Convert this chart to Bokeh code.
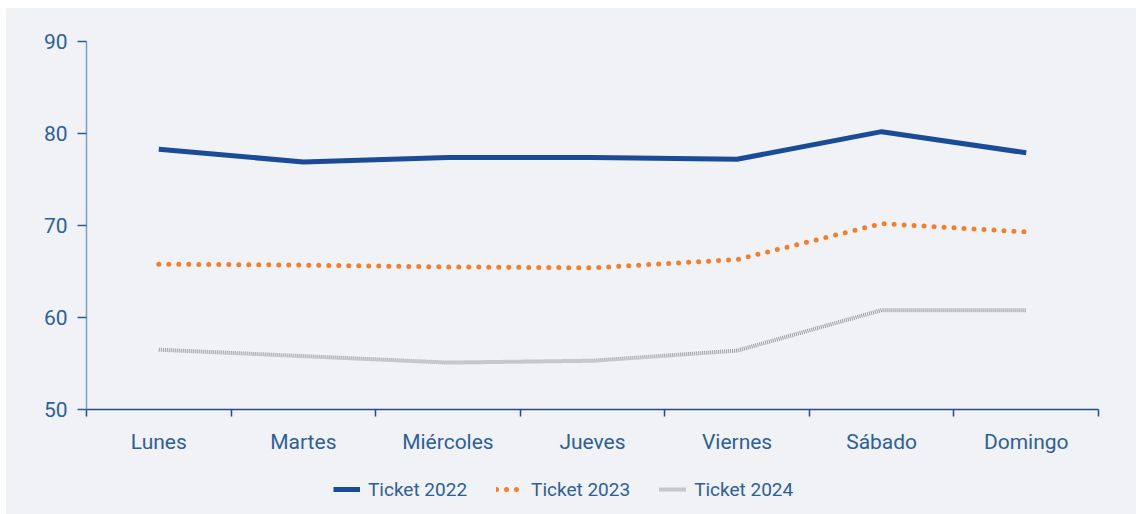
import numpy as np
from bokeh.plotting import figure
from bokeh.layouts import column, row
from bokeh.models import FixedTicker, Legend, LegendItem, Range1d, Spacer
from bokeh.embed import file_html
from bokeh.resources import INLINE

days = ["Lunes", "Martes", "Miércoles", "Jueves", "Viernes", "Sábado", "Domingo"]
ticket_2022 = [78.3, 76.9, 77.4, 77.4, 77.2, 80.2, 77.9]
ticket_2023 = [65.8, 65.7, 65.5, 65.4, 66.3, 70.2, 69.3]
ticket_2024 = [56.5, 55.8, 55.1, 55.3, 56.4, 60.8, 60.8]
series_names = ["Ticket 2022", "Ticket 2023", "Ticket 2024"]
y_ticks = [50, 60, 70, 80, 90]

BG = "#f0f2f6"
TXT = "#2f6094"
FONT = "Roboto"

styles = [dict(line_color="#1a4b96", line_width=5),
          dict(line_color="#f07f2e", line_width=5, line_dash="0 10", line_cap="round"),
          dict(line_color="#9c9ca0", line_width=4, line_dash="1 1")]

x = [i + 0.5 for i in range(len(days))]
series = [ticket_2022, ticket_2023, ticket_2024]

W = 1130
p = figure(width=W, height=448, output_backend="svg", toolbar_location=None,
           x_range=Range1d(0, len(days)), y_range=Range1d(50, 90),
           background_fill_color=BG, border_fill_color=BG,
           min_border_left=80, min_border_right=38, min_border_top=33, min_border_bottom=40)
p.outline_line_color = None
p.grid.visible = False

for ys, st in zip(series, styles):
    p.line(x, ys, **st)

# x axis
xa = p.xaxis[0]
xa.ticker = FixedTicker(ticks=x, minor_ticks=list(range(len(days) + 1)))
xa.major_label_overrides = {v: d for v, d in zip(x, days)}
xa.major_tick_line_color = None
xa.major_tick_out = 0
xa.major_tick_in = 0
xa.minor_tick_line_color = "#1f4e8c"
xa.minor_tick_line_width = 1.5
xa.minor_tick_out = 7
xa.minor_tick_in = 0
xa.axis_line_color = "#1f4e8c"
xa.axis_line_width = 1.5
xa.major_label_text_font = FONT
xa.major_label_text_font_size = "21px"
xa.major_label_text_color = TXT
xa.major_label_standoff = 13

# y axis
ya = p.yaxis[0]
ya.ticker = FixedTicker(ticks=y_ticks)
ya.minor_tick_line_color = None
ya.axis_line_color = "#7c9cc2"
ya.axis_line_width = 1.5
ya.major_tick_line_color = "#2d5d90"
ya.major_tick_line_width = 1.5
ya.major_tick_out = 9
ya.major_tick_in = 0
ya.major_label_text_font = FONT
ya.major_label_text_font_size = "21px"
ya.major_label_text_color = TXT
ya.major_label_standoff = 10

# legend strip (its lines lie outside its visible range; only the legend shows)
lg = figure(width=W, height=58, output_backend="svg", toolbar_location=None,
            x_range=Range1d(0, len(days)), y_range=Range1d(0, 1),
            background_fill_color=BG, border_fill_color=BG,
            min_border=0)
lg.outline_line_color = None
lg.axis.visible = False
lg.grid.visible = False
items = []
for name, ys, st in zip(series_names, series, styles):
    r = lg.line(x, ys, **st)
    items.append(LegendItem(label=name, renderers=[r]))
legend = Legend(items=items, orientation="horizontal", location=(247, 13),
                background_fill_alpha=0, border_line_color=None,
                label_text_font=FONT, label_text_font_size="19px", label_text_color=TXT,
                glyph_width=27, glyph_height=24, spacing=29, padding=0, margin=0,
                label_standoff=8)
lg.add_layout(legend, "center")

chart = column(p, lg, spacing=0, styles={"background-color": BG})
layout = column(Spacer(height=8), row(Spacer(width=6), chart, spacing=0), spacing=0)
open("out.html", "w").write(file_html(layout, INLINE))
